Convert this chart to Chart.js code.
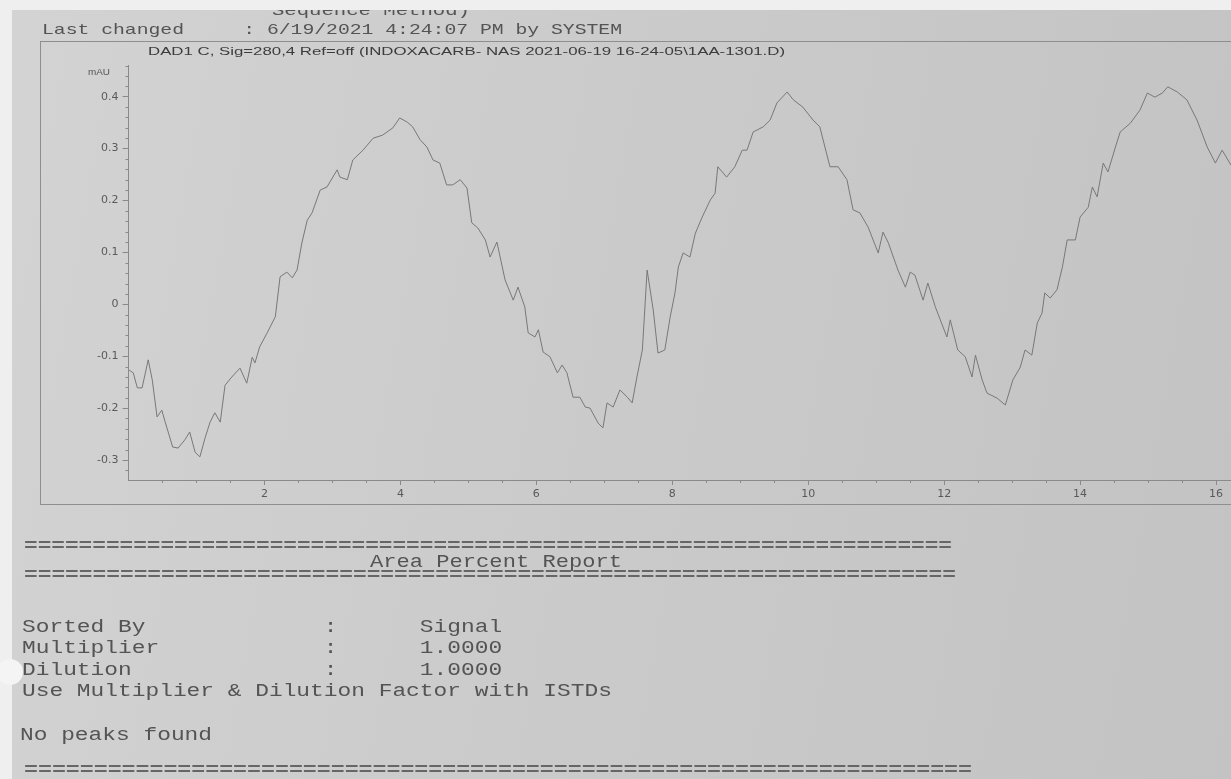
<!DOCTYPE html>
<html><head><meta charset="utf-8">
<script src="https://cdn.jsdelivr.net/npm/chart.js@4.4.1/dist/chart.umd.min.js"></script>
<style>
html,body{margin:0;padding:0;width:1231px;height:779px;overflow:hidden;background:#efefef;position:relative;}
#paper{position:absolute;left:12px;top:10px;width:1219px;height:769px;background:linear-gradient(100deg,#d3d3d3 0%,#cbcbcb 45%,#c3c3c3 100%);}
#frame{position:absolute;left:40px;top:41px;width:1220px;height:462px;border:1px solid #8e8e8e;border-right:none;}
#topstrip{position:absolute;left:0;top:0;width:1231px;height:10px;background:#efefef;}
#hole{position:absolute;left:-3px;top:659px;width:26px;height:26px;border-radius:50%;background:#f4f4f4;}
canvas{position:absolute;left:0;top:0;}
.t{position:absolute;white-space:pre;transform-origin:0 50%;line-height:1;filter:blur(0.3px);}
.mono{font-family:"Liberation Mono","DejaVu Sans Mono",monospace;color:#545454;}
.eq{font-weight:bold;color:#666;}
.sans{font-family:"Liberation Sans",Arial,sans-serif;color:#3c3c3c;}
</style></head>
<body>
<div id="paper"></div>
<div id="frame"></div>
<canvas id="c" width="1231" height="520"></canvas>
<div class="t mono" data-w="198" style="left:272px;top:4px;font-size:15px;">Sequence Method)</div>
<div id="topstrip"></div>
<div class="t mono" data-w="580" style="left:42px;top:23px;font-size:15px;">Last changed     : 6/19/2021 4:24:07 PM by SYSTEM</div>
<div class="t sans" data-w="637" style="left:148px;top:46px;font-size:11px;">DAD1 C, Sig=280,4 Ref=off (INDOXACARB- NAS 2021-06-19 16-24-05\1AA-1301.D)</div>
<div class="t sans" data-w="22" style="left:88px;top:68px;font-size:9px;color:#555;">mAU</div>
<div class="t mono eq" data-w="928" style="left:24px;top:537px;font-size:18px;">====================================================================</div>
<div class="t mono" data-w="252" style="left:370px;top:553px;font-size:18px;">Area Percent Report</div>
<div class="t mono eq" data-w="932" style="left:24px;top:566px;font-size:18px;">====================================================================</div>
<div class="t mono cols" style="left:22px;top:618px;font-size:18px;">Sorted By             :      Signal</div>
<div class="t mono cols" style="left:22px;top:639px;font-size:18px;">Multiplier            :      1.0000</div>
<div class="t mono cols" style="left:22px;top:661px;font-size:18px;">Dilution              :      1.0000</div>
<div class="t mono cols" style="left:22px;top:682px;font-size:18px;">Use Multiplier &amp; Dilution Factor with ISTDs</div>
<div class="t mono cols" style="left:20px;top:726px;font-size:18px;">No peaks found</div>
<div class="t mono eq" data-w="948" style="left:24px;top:761px;font-size:18px;">====================================================================</div>
<div id="hole"></div>
<script>
// ---- data (time in min, signal in mAU) ----
const times = [0.01,0.07,0.13,0.20,0.29,0.35,0.42,0.49,0.54,0.65,0.73,0.83,0.90,0.98,1.05,1.13,1.20,1.27,1.35,1.42,
1.52,1.64,1.74,1.82,1.86,1.93,2.04,2.16,2.23,2.33,2.41,2.48,2.55,2.63,2.70,2.82,2.92,3.07,3.11,3.22,
3.30,3.45,3.60,3.74,3.89,3.99,4.10,4.18,4.29,4.39,4.48,4.58,4.68,4.77,4.88,4.98,5.05,5.14,5.25,5.32,
5.42,5.54,5.66,5.73,5.83,5.88,5.98,6.03,6.10,6.20,6.31,6.38,6.45,6.54,6.64,6.72,6.79,6.91,6.98,7.04,
7.13,7.23,7.34,7.41,7.48,7.56,7.63,7.72,7.79,7.89,7.97,8.04,8.09,8.16,8.26,8.34,8.44,8.56,8.63,8.67,
8.80,8.92,9.03,9.10,9.19,9.34,9.44,9.54,9.69,9.78,9.92,10.07,10.17,10.32,10.44,10.57,10.66,10.76,10.88,11.03,
11.10,11.18,11.32,11.43,11.50,11.57,11.69,11.76,11.87,12.04,12.09,12.20,12.31,12.41,12.46,12.56,12.63,12.78,12.90,13.01,
13.12,13.19,13.29,13.37,13.44,13.48,13.56,13.66,13.74,13.81,13.93,14.00,14.12,14.18,14.25,14.34,14.41,14.52,14.59,14.74,
14.88,14.99,15.10,15.21,15.29,15.43,15.57,15.72,15.87,15.99,16.09,16.22];
const signal = [-0.127,-0.132,-0.161,-0.161,-0.107,-0.146,-0.217,-0.204,-0.227,-0.275,-0.277,-0.261,-0.246,-0.285,-0.294,-0.256,-0.227,-0.209,-0.227,-0.156,
-0.140,-0.123,-0.152,-0.102,-0.113,-0.082,-0.055,-0.024,0.053,0.062,0.051,0.066,0.118,0.162,0.176,0.220,0.226,0.259,0.245,0.240,
0.278,0.297,0.320,0.326,0.340,0.359,0.351,0.342,0.317,0.303,0.278,0.272,0.230,0.230,0.240,0.224,0.157,0.147,0.124,0.091,
0.120,0.047,0.008,0.033,-0.005,-0.055,-0.063,-0.049,-0.092,-0.101,-0.132,-0.117,-0.132,-0.179,-0.179,-0.198,-0.200,-0.229,-0.238,-0.190,
-0.198,-0.165,-0.179,-0.190,-0.140,-0.088,0.066,-0.011,-0.094,-0.088,-0.024,0.022,0.072,0.099,0.091,0.137,0.168,0.201,0.214,0.265,
0.245,0.265,0.297,0.297,0.332,0.342,0.355,0.388,0.409,0.394,0.380,0.355,0.342,0.265,0.265,0.240,0.182,0.176,0.149,0.099,
0.139,0.118,0.066,0.033,0.062,0.056,0.008,0.041,-0.005,-0.063,-0.030,-0.088,-0.101,-0.140,-0.098,-0.146,-0.171,-0.181,-0.194,-0.146,
-0.121,-0.088,-0.098,-0.036,-0.017,0.022,0.012,0.028,0.072,0.124,0.124,0.168,0.187,0.226,0.207,0.272,0.255,0.303,0.332,0.349,
0.374,0.407,0.399,0.407,0.419,0.409,0.394,0.355,0.303,0.272,0.297,0.268];
const xTicks = [2,4,6,8,10,12,14,16];
const yTicks = [-0.3,-0.2,-0.1,0,0.1,0.2,0.3,0.4];
const yTickLabels = ['-0.3','-0.2','-0.1','0','0.1','0.2','0.3','0.4'];
const xMinorStep = 0.5, yMinorStep = 0.02;
const xRange = [0, 16.22], yRange = [-0.3385, 0.461];

// ---- text fitting (photo is stretched horizontally) ----
document.querySelectorAll('.t').forEach(el=>{
  if (el.classList.contains('cols')) { el.style.transform='scaleX(1.27)'; return; }
  const w = +el.dataset.w; if (!w) return;
  const nat = el.getBoundingClientRect().width;
  el.style.transform = 'scaleX(' + (w/nat) + ')';
});

const axisColor = '#8a8a8a';
const minorTicks = {
  id:'minorTicks',
  afterDraw(chart){
    const {ctx, chartArea:a, scales:{x,y}} = chart;
    ctx.save(); ctx.strokeStyle=axisColor; ctx.lineWidth=1; ctx.beginPath();
    const yStart = Math.ceil(yRange[0]/yMinorStep), yEnd = Math.floor(yRange[1]/yMinorStep);
    for (let k=yStart;k<=yEnd;k++){
      const v=k*yMinorStep; if (k%5===0) continue;
      const p=Math.round(y.getPixelForValue(v))+0.5;
      ctx.moveTo(a.left-3,p); ctx.lineTo(a.left,p);
    }
    const xEnd = Math.floor(xRange[1]/xMinorStep);
    for (let k=1;k<=xEnd;k++){
      const v=k*xMinorStep; if (k%4===0) continue;
      const p=Math.round(x.getPixelForValue(v))+0.5;
      ctx.moveTo(p,a.bottom); ctx.lineTo(p,a.bottom+3);
    }
    ctx.stroke(); ctx.restore();
  }
};

const points = times.map((t,i)=>({x:t,y:signal[i]}));
new Chart(document.getElementById('c'), {
  type:'scatter',
  data:{datasets:[{data:points, showLine:true, borderColor:'#787878', borderWidth:1, pointRadius:0, fill:false, tension:0}]},
  options:{
    animation:false, responsive:false, devicePixelRatio:1,
    layout:{padding:{top:65,left:0,right:0,bottom:0}},
    plugins:{legend:{display:false}, tooltip:{enabled:false}},
    scales:{
      x:{type:'linear', min:xRange[0], max:xRange[1],
        afterBuildTicks:s=>{s.ticks=xTicks.map(v=>({value:v}));},
        afterFit:s=>{s.height=40;},
        grid:{drawOnChartArea:false, drawTicks:true, tickLength:5, color:axisColor, lineWidth:1},
        border:{display:true, color:axisColor, width:1},
        ticks:{font:{family:'DejaVu Sans', size:11}, color:'#5a5a5a', padding:3, maxRotation:0, autoSkip:false, callback:v=>String(v)}
      },
      y:{type:'linear', min:yRange[0], max:yRange[1],
        afterBuildTicks:s=>{s.ticks=yTicks.map(v=>({value:v}));},
        afterFit:s=>{s.width=128.5;},
        grid:{drawOnChartArea:false, drawTicks:true, tickLength:6, color:axisColor, lineWidth:1},
        border:{display:true, color:axisColor, width:1},
        ticks:{font:{family:'DejaVu Sans', size:11}, color:'#5a5a5a', padding:4, autoSkip:false,
          callback:v=>{const i=yTicks.findIndex(t=>Math.abs(t-v)<1e-9); return i>=0?yTickLabels[i]:'';}}
      }
    }
  },
  plugins:[minorTicks]
});
</script>
</body></html>
